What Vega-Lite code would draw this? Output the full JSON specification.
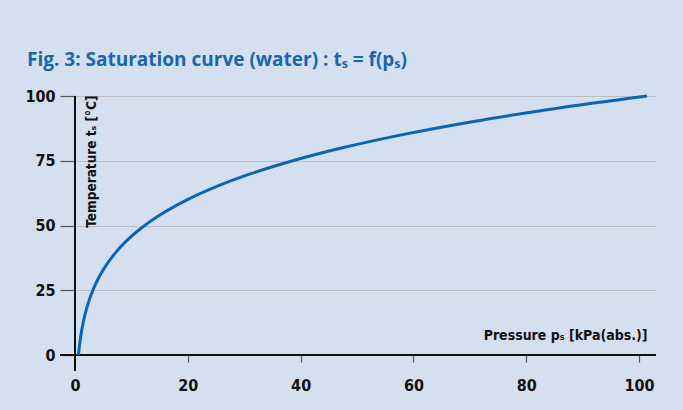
{
  "$schema": "https://vega.github.io/schema/vega-lite/v6.json",
  "autosize": {"type": "none"},
  "width": 581,
  "height": 259,
  "padding": {"left": 75, "top": 96, "right": 27, "bottom": 55},
  "background": "#d4dff0",
  "title": {
    "text": "Fig. 3: Saturation curve (water) : tₛ = f(pₛ)",
    "anchor": "start",
    "frame": "group",
    "dx": -48,
    "offset": 18,
    "font": "Open Sans",
    "fontSize": 19,
    "fontWeight": "bold",
    "color": "#1766b0"
  },
  "data": {
    "values": [
      {"p": 0.6117, "t": 0.01},
      {"p": 0.6571, "t": 1},
      {"p": 0.7060, "t": 2},
      {"p": 0.7581, "t": 3},
      {"p": 0.8135, "t": 4},
      {"p": 0.8726, "t": 5},
      {"p": 0.9353, "t": 6},
      {"p": 1.0730, "t": 8},
      {"p": 1.2282, "t": 10},
      {"p": 1.4028, "t": 12},
      {"p": 1.5989, "t": 14},
      {"p": 1.8188, "t": 16},
      {"p": 2.0647, "t": 18},
      {"p": 2.3393, "t": 20},
      {"p": 3.1699, "t": 25},
      {"p": 4.2470, "t": 30},
      {"p": 5.6290, "t": 35},
      {"p": 7.3849, "t": 40},
      {"p": 9.5953, "t": 45},
      {"p": 12.352, "t": 50},
      {"p": 15.763, "t": 55},
      {"p": 19.947, "t": 60},
      {"p": 25.043, "t": 65},
      {"p": 31.202, "t": 70},
      {"p": 38.597, "t": 75},
      {"p": 47.416, "t": 80},
      {"p": 57.868, "t": 85},
      {"p": 70.183, "t": 90},
      {"p": 84.609, "t": 95},
      {"p": 101.42, "t": 100}
    ]
  },
  "layer": [
    {
      "mark": {"type": "rule", "color": "#111111", "strokeWidth": 1.6},
      "encoding": {
        "y": {"datum": 0, "type": "quantitative", "scale": {"domain": [0, 100]}},
        "x": {"datum": -2.66, "type": "quantitative", "scale": {"domain": [0, 103]}},
        "x2": {"datum": 103}
      }
    },
    {
      "mark": {"type": "rule", "color": "#111111", "strokeWidth": 1.6},
      "encoding": {
        "x": {"datum": 0, "type": "quantitative"},
        "y": {"datum": -6.2, "type": "quantitative"},
        "y2": {"datum": 100}
      }
    },
    {
      "mark": {"type": "line", "color": "#0a65b5", "strokeWidth": 3, "interpolate": "monotone"},
      "encoding": {
        "x": {
          "field": "p",
          "type": "quantitative",
          "scale": {"domain": [0, 103], "nice": false, "zero": false},
          "axis": {
            "values": [0, 20, 40, 60, 80, 100],
            "domain": false,
            "grid": false,
            "tickColor": "#555555",
            "tickSize": 7,
            "tickWidth": 1.2,
            "labelPadding": 15,
            "labelFont": "DejaVu Sans Condensed",
            "labelFontSize": 16,
            "labelFontWeight": "bold",
            "labelColor": "#111111",
            "labelFlush": false,
            "title": "Pressure pₛ [kPa(abs.)]",
            "titleFont": "DejaVu Sans Condensed",
            "titleFontSize": 14,
            "titleFontWeight": "bold",
            "titleColor": "#111111",
            "titleAlign": "right",
            "titleBaseline": "alphabetic",
            "titleAnchor": null,
            "titleX": 572,
            "titleY": -16
          }
        },
        "y": {
          "field": "t",
          "type": "quantitative",
          "scale": {"domain": [0, 100], "nice": false},
          "axis": {
            "values": [0, 25, 50, 75, 100],
            "domain": false,
            "grid": true,
            "gridColor": "#b9bdc6",
            "gridWidth": 1.2,
            "tickColor": "#555555",
            "tickSize": 15,
            "tickWidth": 1.2,
            "labelPadding": 5,
            "labelFont": "DejaVu Sans Condensed",
            "labelFontSize": 16,
            "labelFontWeight": "bold",
            "labelColor": "#111111",
            "labelFlush": false,
            "title": "Temperature tₛ [°C]",
            "titleFont": "DejaVu Sans Condensed",
            "titleFontSize": 13.5,
            "titleFontWeight": "bold",
            "titleColor": "#111111",
            "titleAngle": 270,
            "titleAlign": "right",
            "titleBaseline": "alphabetic",
            "titleAnchor": null,
            "titleX": 20,
            "titleY": -1
          }
        }
      }
    }
  ],
  "config": {"view": {"stroke": null}}
}
